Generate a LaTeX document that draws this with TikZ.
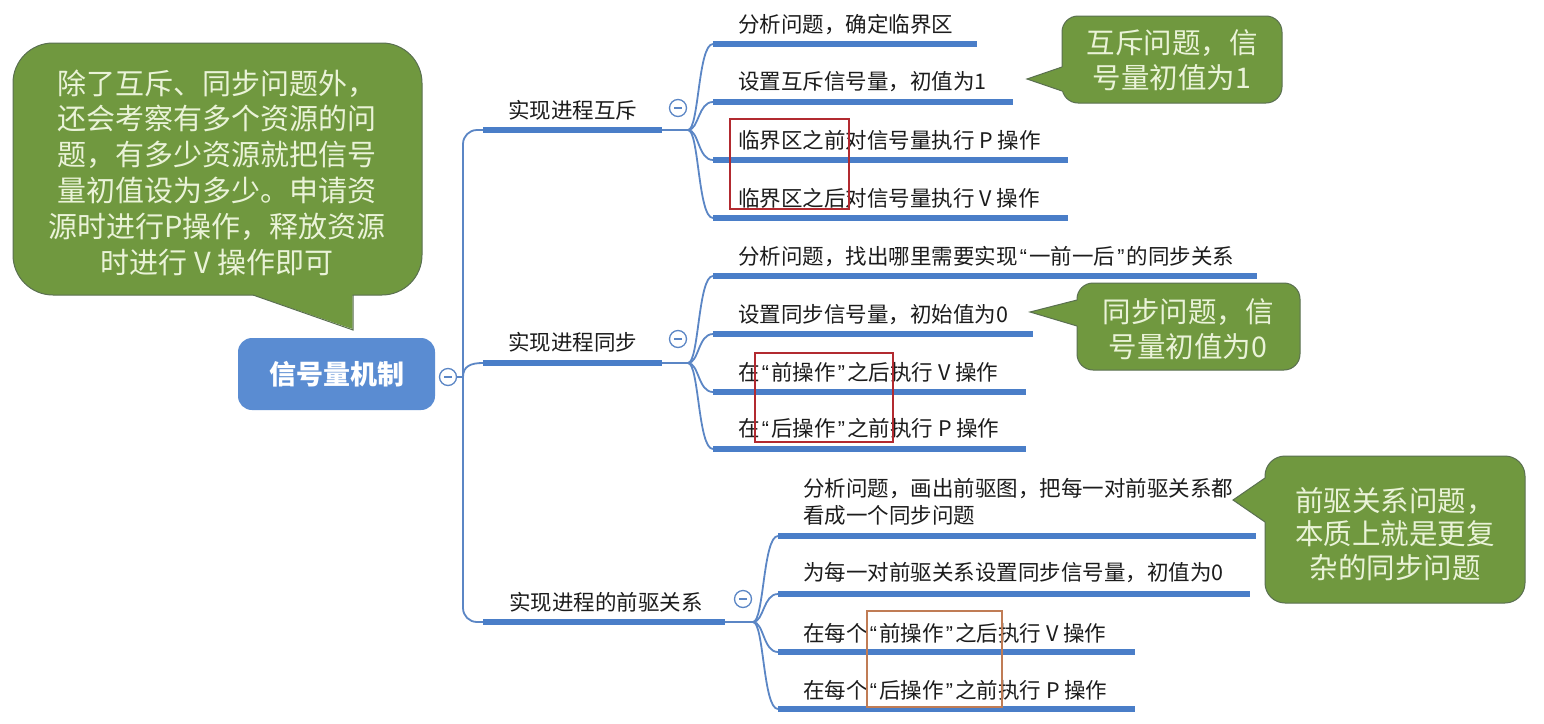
\documentclass[tikz,border=0pt]{standalone}
\usepackage{fontspec}
\setmainfont{Noto Sans CJK SC}
\newfontfamily\qfont{Liberation Sans}
\newcommand\qop{\makebox[11.5pt]{\qfont“}}
\newcommand\qcl{\makebox[11.5pt]{\qfont”}}
\definecolor{ublue}{HTML}{4A7EC8}
\definecolor{cblue}{HTML}{5B86C5}
\definecolor{rootblue}{HTML}{5A8CD2}
\definecolor{cgreen}{HTML}{70983F}
\definecolor{cborder}{HTML}{5A7050}
\definecolor{ctext}{HTML}{EAF3D8}
\definecolor{rbox}{HTML}{B22A30}
\definecolor{obox}{HTML}{C07C55}
\definecolor{ink}{HTML}{1C1C1C}
\tikzset{
  uline/.style={ublue, line width=5.5pt, line cap=butt},
  conn/.style={cblue, line width=1.8pt},
  lbl/.style={anchor=west, inner sep=0pt, text=ink, font=\fontsize{21.5}{27}\selectfont},
  ctxt/.style={inner sep=0pt, align=center, text=ctext},
  cbox/.style={fill=cgreen, draw=cborder, line width=1pt},
  fold/.style={circle, draw=cblue, fill=white, line width=1.3pt, minimum size=17pt, inner sep=0pt,
    path picture={\draw[cblue, line width=1.3pt] ([xshift=-4pt]path picture bounding box.center) -- ([xshift=4pt]path picture bounding box.center);}},
  rootbox/.style={fill=rootblue, rounded corners=14pt, minimum width=197pt, minimum height=72pt, inner sep=0pt,
    text=white, font=\fontsize{27}{32}\selectfont\bfseries}
}
\begin{document}
\begin{tikzpicture}[x=1pt, y=-1pt]
\useasboundingbox (0,0) rectangle (1544,723);
\fill[white] (0,0) rectangle (1544,723);

% ---------- callout 1 (left) ----------
\draw[cbox, rounded corners=40pt] (13,43) rectangle (422,295);
\fill[cgreen] (253,291.5) -- (352.5,291.5) -- (352.5,329) -- (253,295) -- cycle;
\draw[cborder, line width=1pt] (253,295) -- (353,330) -- (353,295);
\node[ctxt, font=\fontsize{29}{35.8}\selectfont] (note1) at (217,172.5)
  {除了互斥、同步问题外，\\还会考察有多个资源的问\\题，有多少资源就把信号\\量初值设为多少。申请资\\源时进行P操作，释放资源\\时进行 V 操作即可};

% ---------- root ----------
\node[rootbox] (root) at (336.5,374) {信号量机制};
\node[fold] (rootfold) at (448,377) {};

% ---------- trunk ----------
\coordinate (tj) at (463,377);
\coordinate (b1s) at (483,130);
\coordinate (b1e) at (662,130);
\coordinate (b1f) at (688,130);
\coordinate (b2s) at (483,363);
\coordinate (b2e) at (662,363);
\coordinate (b2f) at (688,363);
\coordinate (b3s) at (483,622);
\coordinate (b3e) at (725,622);
\coordinate (b3f) at (753,622);

\draw[conn] (rootfold.east) -- (tj);
\draw[conn, rounded corners=14pt] (b1s) -- (b1s -| tj) -- (b3s -| tj) -- (b3s);
\draw[conn] (tj) .. controls +(0,-11) and +(-12,0) .. (b2s);

% ---------- branch 1 ----------
\draw[uline] (b1s) -- (b1e);
\draw[conn] (b1e) -- (b1f);
\node[lbl] (l1) at (508,110) {实现进程互斥};
\node[fold] (f1) at (678,108) {};

\coordinate (c11s) at (713,44);  \coordinate (c11e) at (977,44);
\coordinate (c12s) at (713,102); \coordinate (c12e) at (1013,102);
\coordinate (c13s) at (713,160); \coordinate (c13e) at (1068,160);
\coordinate (c14s) at (713,218); \coordinate (c14e) at (1068,218);
\foreach \c in {c11,c12,c13,c14}{
  \draw[conn] (b1f) .. controls +(11,0) and +(-15,0) .. (\c s);
  \draw[uline] (\c s) -- (\c e);
}
\node[lbl] (t11) at (738,25) {分析问题，确定临界区};
\node[lbl] (t12) at (738,82) {设置互斥信号量，初值为1};
\node[lbl] (t13) at (738,140) {临界区之前对信号量执行 P 操作};
\node[lbl] (t14) at (738,198) {临界区之后对信号量执行 V 操作};

% ---------- branch 2 ----------
\draw[uline] (b2s) -- (b2e);
\draw[conn] (b2e) -- (b2f);
\node[lbl] (l2) at (508,342) {实现进程同步};
\node[fold] (f2) at (678,339) {};

\coordinate (c21s) at (713,276); \coordinate (c21e) at (1257,276);
\coordinate (c22s) at (713,334); \coordinate (c22e) at (1033,334);
\coordinate (c23s) at (713,392); \coordinate (c23e) at (1026,392);
\coordinate (c24s) at (713,449); \coordinate (c24e) at (1026,449);
\foreach \c in {c21,c22,c23,c24}{
  \draw[conn] (b2f) .. controls +(11,0) and +(-15,0) .. (\c s);
  \draw[uline] (\c s) -- (\c e);
}
\node[lbl] (t21) at (738,257) {分析问题，找出哪里需要实现\qop 一前一后\qcl 的同步关系};
\node[lbl] (t22) at (738,315) {设置同步信号量，初始值为0};
\node[lbl] (t23) at (738,372) {在\qop 前操作\qcl 之后执行 V 操作};
\node[lbl] (t24) at (738,428) {在\qop 后操作\qcl 之前执行 P 操作};

% ---------- branch 3 ----------
\draw[uline] (b3s) -- (b3e);
\draw[conn] (b3e) -- (b3f);
\node[lbl] (l3) at (509,602) {实现进程的前驱关系};
\node[fold] (f3) at (743,599) {};

\coordinate (c31s) at (778,536); \coordinate (c31e) at (1256,536);
\coordinate (c32s) at (778,594); \coordinate (c32e) at (1250,594);
\coordinate (c33s) at (778,652); \coordinate (c33e) at (1135,652);
\coordinate (c34s) at (778,709); \coordinate (c34e) at (1135,709);
\foreach \c in {c31,c32,c33,c34}{
  \draw[conn] (b3f) .. controls +(11,0) and +(-15,0) .. (\c s);
  \draw[uline] (\c s) -- (\c e);
}
\node[lbl, align=left, font=\fontsize{21.5}{27}\selectfont] (t31) at (803,501.5) {分析问题，画出前驱图，把每一对前驱关系都\\看成一个同步问题};
\node[lbl] (t32) at (803,573) {为每一对前驱关系设置同步信号量，初值为0};
\node[lbl] (t33) at (803,633) {在每个\qop 前操作\qcl 之后执行 V 操作};
\node[lbl] (t34) at (803,690) {在每个\qop 后操作\qcl 之前执行 P 操作};

% ---------- highlight boxes ----------
\draw[rbox, line width=1.8pt] (730,119) rectangle (849,209);
\draw[rbox, line width=1.8pt] (755,353) rectangle (893,442);
\draw[obox, line width=2.2pt] (867,611) rectangle (1002,707);

% ---------- callout 2 ----------
\draw[cbox, rounded corners=16pt] (1062,16) rectangle (1282,103);
\fill[cgreen] (1062,67) -- (1065.5,67) -- (1065.5,91) -- (1062,91) -- (1027,79) -- cycle;
\draw[cborder, line width=1pt] (1062,67) -- (1027,79) -- (1062,91);
\node[ctxt, font=\fontsize{28.5}{35}\selectfont] (note2) at (1172,60) {互斥问题，信\\号量初值为1};

% ---------- callout 3 ----------
\draw[cbox, rounded corners=16pt] (1077,283) rectangle (1300,370);
\fill[cgreen] (1077,300) -- (1080.5,300) -- (1080.5,326) -- (1077,326) -- (1030,312) -- cycle;
\draw[cborder, line width=1pt] (1077,300) -- (1030,312) -- (1077,326);
\node[ctxt, font=\fontsize{28.5}{35}\selectfont] (note3) at (1188,329) {同步问题，信\\号量初值为0};

% ---------- callout 4 ----------
\draw[cbox, rounded corners=20pt] (1265,456) rectangle (1525,603);
\fill[cgreen] (1265,478) -- (1268.5,478) -- (1268.5,522) -- (1265,522) -- (1233,500) -- cycle;
\draw[cborder, line width=1pt] (1265,478) -- (1233,500) -- (1265,522);
\node[ctxt, font=\fontsize{28.5}{33.5}\selectfont] (note4) at (1395,534) {前驱关系问题，\\本质上就是更复\\杂的同步问题};
\end{tikzpicture}
\end{document}
